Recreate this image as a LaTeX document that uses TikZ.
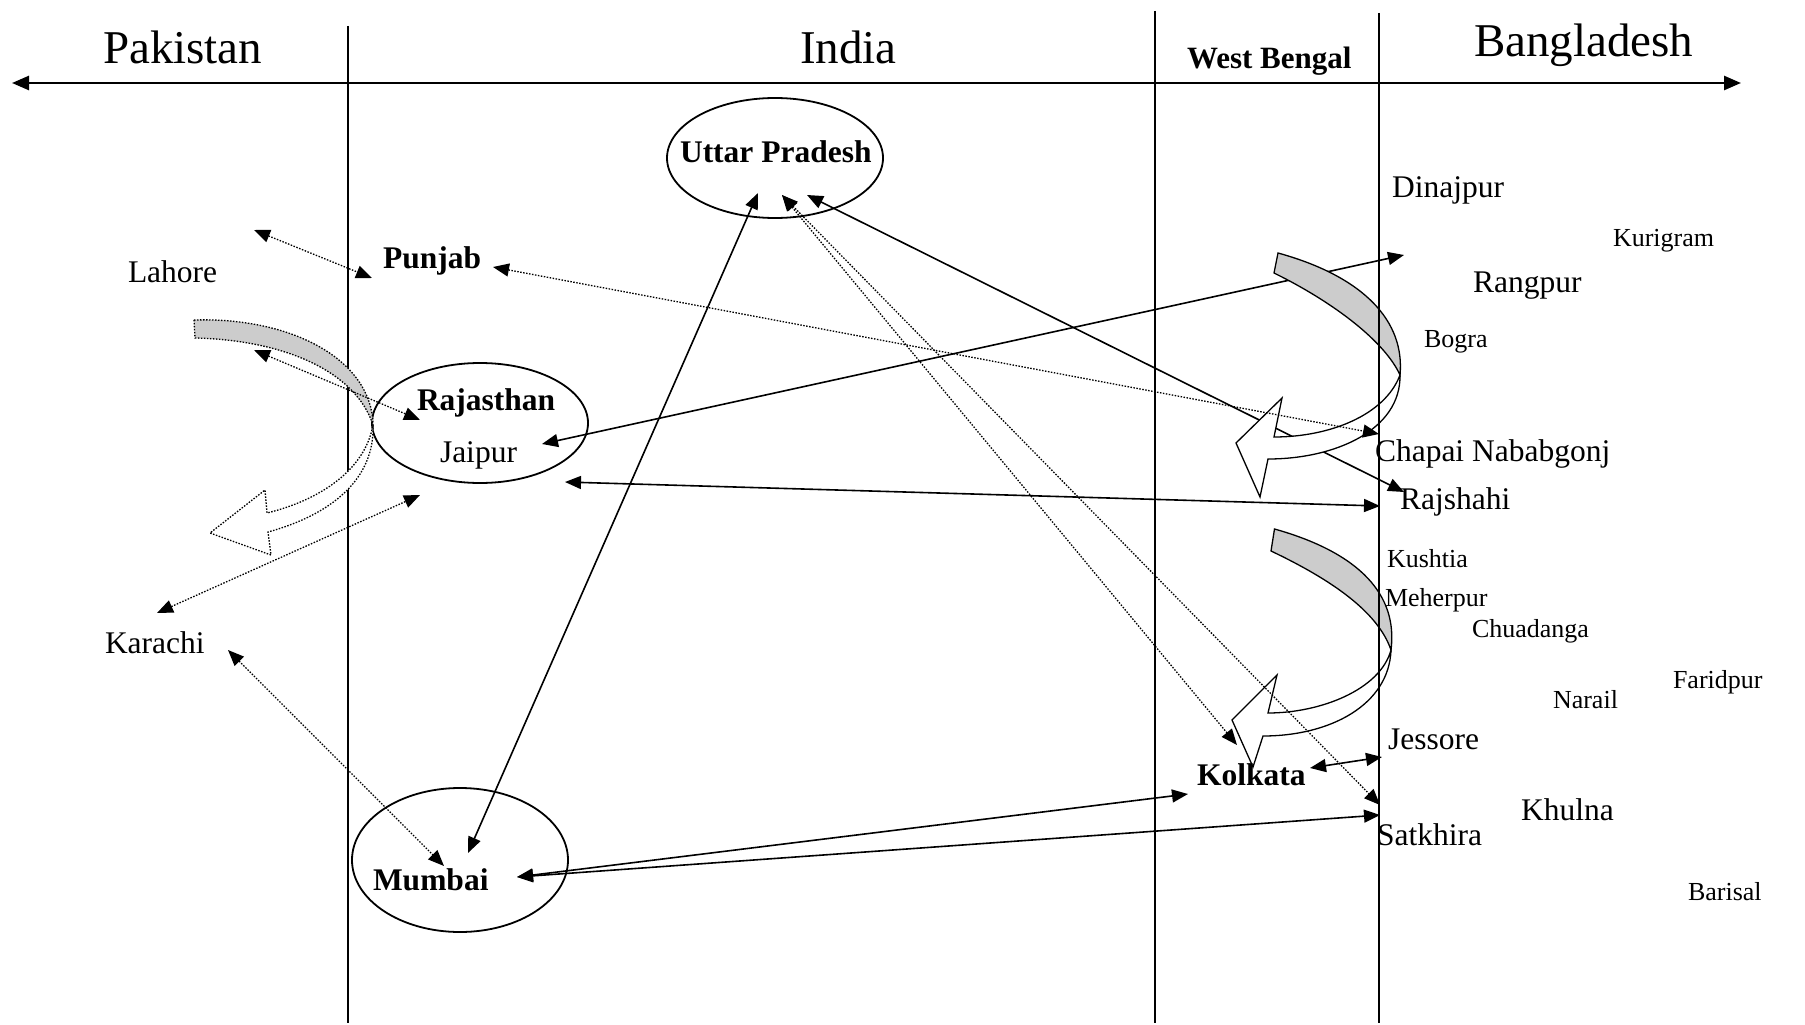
\documentclass[tikz,border=0pt]{standalone}
\usepackage{fontspec}
\setmainfont{Liberation Serif}
\usetikzlibrary{arrows.meta,shapes.geometric}
\newcommand\hdfont{\fontsize{47}{50}\selectfont}
\newcommand\ctfont{\fontsize{31.5}{34}\selectfont}
\newcommand\smfont{\fontsize{26}{28}\selectfont}
\definecolor{bandgray}{RGB}{204,204,204}
\begin{document}
\begin{tikzpicture}[x=1pt,y=-1pt,
  lbl/.style={anchor=base west, inner sep=0pt, outer sep=0pt},
  hdr/.style={lbl, font=\hdfont},
  statelbl/.style={lbl, font=\ctfont\bfseries},
  citylbl/.style={lbl, font=\ctfont},
  smalllbl/.style={lbl, font=\smfont},
  region/.style={ellipse, draw, line width=1.8pt, minimum width=216pt, inner sep=0pt},
  tipx/.tip={Triangle[length=16pt,width=13pt]},
  conn/.style={line width=1.6pt, tipx-tipx},
  dconn/.style={line width=1.3pt, dash pattern=on 1.5pt off 1.5pt, tipx-tipx},
  border/.style={line width=2pt},
  bandback/.style={fill=bandgray, draw=black, line width=1.3pt, line join=miter},
  bandfront/.style={fill=white, draw=black, line width=1.3pt, line join=miter},
  dbandback/.style={bandback, dash pattern=on 1.5pt off 1.5pt},
  dbandfront/.style={bandfront, dash pattern=on 1.5pt off 1.5pt}
]
\useasboundingbox (0,0) rectangle (1805,1025);

% ---- axis and borders
\coordinate (axL) at (12,83);
\coordinate (axR) at (1741,83);
\draw[line width=2.6pt, {Triangle[length=17pt,width=14pt]}-{Triangle[length=17pt,width=14pt]}] (axL) -- (axR);
\coordinate (b1t) at (348,26);  \coordinate (b1b) at (348,1023);
\coordinate (b2t) at (1155,11); \coordinate (b2b) at (1155,1023);
\coordinate (b3t) at (1379,13); \coordinate (b3b) at (1379,1023);
\draw[border] (b1t) -- (b1b);
\draw[border] (b2t) -- (b2b);

% ---- region ellipses
\node[region, minimum height=120pt] (upE) at (775,158) {};
\node[region, minimum height=120pt] (rjE) at (480,423) {};
\node[region, minimum height=144pt] (mbE) at (460,860) {};

% ---- connector end points
\coordinate (lahA) at (254,230);  \coordinate (pbA) at (372,278);
\coordinate (pbB) at (493,267);   \coordinate (chB) at (1379,434);
\coordinate (lahC) at (254,350);  \coordinate (rjC) at (420,420);
\coordinate (kaD) at (157,613);   \coordinate (rjD) at (420,495);
\coordinate (kaE) at (228,650);   \coordinate (mbE1) at (444,866);
\coordinate (upF) at (758,193);   \coordinate (mbF) at (468,853);
\coordinate (upG) at (782,195);   \coordinate (koG) at (1237,745);
\coordinate (saG) at (1380,805);
\coordinate (upH) at (807,195);   \coordinate (rsH) at (1404,492);
\coordinate (jpI) at (542,444);   \coordinate (diI) at (1404,255);
\coordinate (rjJ) at (565,482);   \coordinate (rsJ) at (1380,506);
\coordinate (koK) at (1310,768);  \coordinate (jeK) at (1382,757);
\coordinate (mbL) at (517,877);   \coordinate (koL) at (1188,794);
\coordinate (saL) at (1380,815);

% ---- solid connectors
\draw[conn] (upF) -- (mbF);
\draw[conn] (upH) -- (rsH);
\draw[conn] (jpI) -- (diI);
\draw[conn] (rjJ) -- (rsJ);
\draw[conn] (koK) -- (jeK);
\draw[conn] (mbL) -- (koL);
\draw[conn] (mbL) -- (saL);

% ---- upper right curved block arrow
\path[bandback] (1278,253) .. controls (1365,277) and (1405,322) .. (1400,375)
   .. controls (1385,342) and (1335,303) .. (1274,273) -- cycle;
\path[bandfront] (1400,375) .. controls (1401,430) and (1335,459) .. (1268,459)
   -- (1260,497) -- (1236,443) -- (1282,398) -- (1274,437)
   .. controls (1330,437) and (1385,415) .. (1400,375) -- cycle;

% ---- lower right curved block arrow
\path[bandback] (1274.5,529) .. controls (1360,553) and (1398,595) .. (1391,650)
   .. controls (1378,612) and (1332,580) .. (1271,551) -- cycle;
\path[bandfront] (1391,650) .. controls (1389,705) and (1330,736) .. (1263,736)
   -- (1253,767) -- (1232,720) -- (1277,675) -- (1268,713)
   .. controls (1320,713) and (1380,690) .. (1391,650) -- cycle;

\draw[line width=1.6pt] (b3t) -- (b3b);

% ---- left dotted curved block arrow
\path[dbandback] (194,320) .. controls (292,317) and (372,360) .. (373,425)
   .. controls (356,372) and (285,340) .. (195,338) -- cycle;
\path[dbandfront] (373,425) .. controls (375,480) and (330,515) .. (268,532)
   -- (271,555) -- (210,533) -- (265,490) -- (267,513)
   .. controls (320,500) and (365,470) .. (373,425) -- cycle;

% ---- dotted connectors
\draw[dconn] (lahA) -- (pbA);
\draw[dconn] (pbB) -- (chB);
\draw[dconn] (lahC) -- (rjC);
\draw[dconn] (kaD) -- (rjD);
\draw[dconn] (kaE) -- (mbE1);
\draw[dconn] (upG) -- (koG);
\draw[dconn] (upG) -- (saG);

% ---- headers
\node[hdr] (pak) at (103,64) {Pakistan};
\node[hdr] (ind) at (800,64) {India};
\node[lbl, font=\fontsize{31}{33}\selectfont\bfseries] (wb) at (1187,69) {West Bengal};
\node[hdr] (bd) at (1474,57) {Bangladesh};

% ---- labels
\node[statelbl] (upT) at (680,162) {Uttar Pradesh};
\node[statelbl] (pbT) at (383,268) {Punjab};
\node[statelbl] (rjT) at (417,410) {Rajasthan};
\node[citylbl] (jpT) at (440,462) {Jaipur};
\node[statelbl] (mbT) at (373,890) {Mumbai};
\node[statelbl] (koT) at (1197,785) {Kolkata};
\node[citylbl] (lahT) at (128,282) {Lahore};
\node[citylbl] (kaT) at (105,653) {Karachi};

\node[citylbl] (diT) at (1392,197) {Dinajpur};
\node[smalllbl] (kuT) at (1613,246) {Kurigram};
\node[citylbl] (raT) at (1473,292) {Rangpur};
\node[smalllbl] (boT) at (1424,347) {Bogra};
\node[citylbl] (chT) at (1375,461) {Chapai Nababgonj};
\node[citylbl] (rsT) at (1400,509) {Rajshahi};
\node[smalllbl] (ksT) at (1387,567) {Kushtia};
\node[smalllbl] (meT) at (1385,606) {Meherpur};
\node[smalllbl] (cuT) at (1472,637) {Chuadanga};
\node[smalllbl] (faT) at (1673,688) {Faridpur};
\node[smalllbl] (naT) at (1553,708) {Narail};
\node[citylbl] (jeT) at (1388,749) {Jessore};
\node[citylbl] (khT) at (1521,820) {Khulna};
\node[citylbl] (saT) at (1377,845) {Satkhira};
\node[smalllbl] (baT) at (1688,900) {Barisal};
\end{tikzpicture}
\end{document}
